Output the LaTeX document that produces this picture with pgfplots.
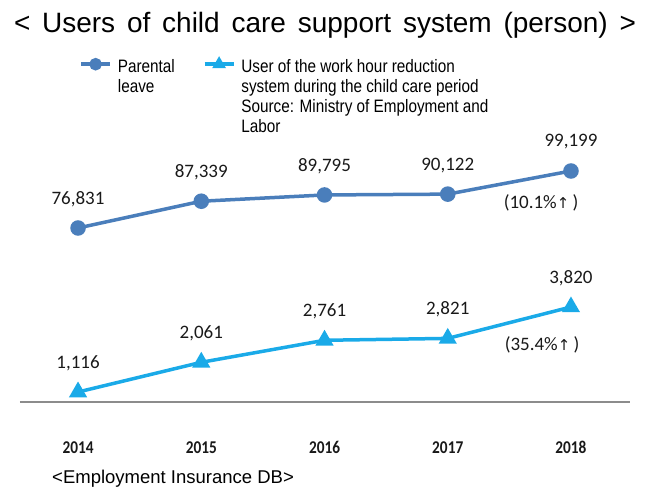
\documentclass[border=0pt]{standalone}
\usepackage{fontspec}
\setmainfont{Liberation Sans}
\newfontfamily\carlito{Carlito}
\newfontfamily\tickfont{Carlito}[FakeStretch=0.85]
\newfontfamily\legfont{Liberation Sans}[FakeStretch=0.85]
\newfontfamily\symfont{DejaVu Sans}
\usepackage{pgfplots}
\pgfplotsset{compat=1.18}
\definecolor{parblue}{RGB}{74,126,187}
\definecolor{redblue}{RGB}{26,170,232}
\pgfplotsset{base/.style={
  at={(20pt,88pt)}, anchor=south west, scale only axis, width=610pt, height=252pt,
  xmin=2013.529, xmax=2018.479, clip=false,
  /pgf/number format/assume math mode=true,
  /pgf/number format/1000 sep={,},
  nodes near coords,
  every node near coord/.append style={font=\carlito\fontsize{19}{22}\selectfont, text=black!90, anchor=center, yshift=29pt},
  legend image code/.code={\draw[mark repeat=2,mark phase=2,#1,mark size=4.5pt] plot coordinates {(0pt,-8pt)(14.5pt,-8pt)(29pt,-8pt)};},
}}
\begin{document}
\begin{tikzpicture}
\useasboundingbox (0,0) rectangle (648pt,490pt);
\begin{axis}[base, ymin=8553, ymax=107438,
  axis x line*=bottom, axis y line=none,
  x axis line style={draw=black!45, line width=1.5pt, -},
  xtick={2014,2015,2016,2017,2018}, xticklabels={2014,2015,2016,2017,2018},
  major tick length=0pt,
  xticklabel style={font=\tickfont\bfseries\fontsize{18}{20}\selectfont, text=black!90, anchor=base, inner sep=0pt, yshift=-51pt},
  legend columns=2,
  legend style={draw=none, fill=none, at={(axis description cs:0.097,1.373)}, anchor=north west,
    font=\legfont\fontsize{18}{20}\selectfont, inner sep=0pt,
    cells={anchor=north west, inner sep=0pt},
    /tikz/every odd column/.append style={column sep=4pt},
    /tikz/every even column/.append style={column sep=26pt}},
]
\addplot[parblue, line width=3.5pt, mark=*, mark size=6pt] coordinates {
(2014,76831) (2015,87339) (2016,89795) (2017,90122) (2018,99199)};
\addlegendentry{\begin{tabular}[t]{@{}l@{}}Parental\\leave\end{tabular}}
\addlegendimage{redblue, line width=3.5pt, mark=triangle*, mark size=6pt}
\addlegendentry{\begin{tabular}[t]{@{}l@{}}User of the work hour reduction\\system during the child care period\\Source: Ministry of Employment and\\Labor\end{tabular}}
\node[font=\carlito\fontsize{19}{22}\selectfont, text=black!90] at (axis cs:2017.757,86641) {(10.1\%{\symfont\fontsize{15}{16}\selectfont ↑}\,)};
\end{axis}
\begin{axis}[base, ymin=798, ymax=8814, hide axis]
\addplot[redblue, line width=3.5pt, mark=triangle*, mark size=7pt] coordinates {
(2014,1116) (2015,2061) (2016,2761) (2017,2821) (2018,3820)};
\node[font=\carlito\fontsize{19}{22}\selectfont, text=black!90] at (axis cs:2017.765,2611) {(35.4\%{\symfont\fontsize{15}{16}\selectfont ↑}\,)};
\end{axis}
\node[anchor=center, inner sep=0pt] at (325pt,465pt) {\makebox[622pt][s]{\fontsize{28}{32}\selectfont < Users of child care support system (person) >}};
\node[anchor=west, inner sep=0pt, font=\fontsize{18.5}{20}\selectfont] at (52pt,11pt) {<Employment Insurance DB>};
\end{tikzpicture}
\end{document}
